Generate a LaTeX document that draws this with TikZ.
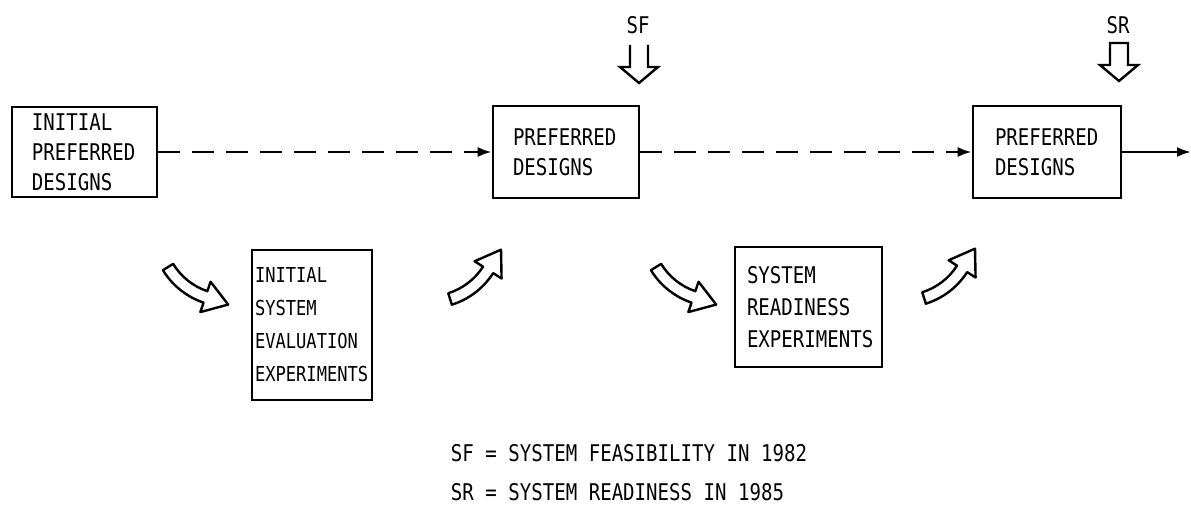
\documentclass[tikz,border=0pt]{standalone}
\usepackage{fontspec}
\setmainfont{DejaVu Sans Mono}[FakeStretch=0.83]
\usetikzlibrary{arrows.meta}
\tikzset{
  every picture/.style={line width=1.2pt},
  box/.style={draw, line width=1.3pt, align=left, inner ysep=2pt, font=\fontsize{11.5}{15}\selectfont},
  flow/.style={-{Latex[length=7pt,width=5pt]}, line width=1.2pt},
  lab/.style={font=\fontsize{11.5}{14}\selectfont},
  drop/.pic={\draw (-9,0) -- (-9,22) -- (-19,22) -- (0,38) -- (19,22) -- (9,22) -- (9,0) -- cycle;},
  dropopen/.pic={\draw (-9,0) -- (-9,22) -- (-19,22) -- (0,38) -- (19,22) -- (9,22) -- (9,0);},
  bend/.pic={\draw[line join=round] (1.06pt,2.82pt) arc[start angle=250, end angle=290, radius=32pt]
      -- (21.23pt,7.52pt) -- (35.25pt,4.1pt) -- (26.71pt,-7.52pt) -- (25pt,-2.82pt)
      arc[start angle=290, end angle=250, radius=38pt] -- cycle;},
}
\begin{document}
\begin{tikzpicture}[x=0.5pt, y=-0.5pt]
  \useasboundingbox (0,0) rectangle (1191,518);
  \node[box, minimum width=72.5pt, minimum height=45pt, inner xsep=10pt, text width=52.5pt] (init) at (84.5,152) {INITIAL\\PREFERRED\\DESIGNS};
  \node[box, minimum width=73pt, minimum height=46pt, inner xsep=10pt, text width=53pt] (pref1) at (566,152) {PREFERRED\\DESIGNS};
  \node[box, minimum width=74pt, minimum height=46pt, inner xsep=11pt, text width=52pt] (pref2) at (1047,152) {PREFERRED\\DESIGNS};
  \node[box, minimum width=60pt, minimum height=75pt, inner xsep=1.5pt, text width=57pt, font=\fontsize{10.3}{16.5}\selectfont] (eval) at (312,325) {INITIAL\\SYSTEM\\EVALUATION\\EXPERIMENTS};
  \node[box, minimum width=73.5pt, minimum height=60pt, inner xsep=6pt, text width=61.5pt, font=\fontsize{11.5}{16}\selectfont] (ready) at (808.5,307) {SYSTEM\\READINESS\\EXPERIMENTS};
  \coordinate (out) at (1191,152);
  \draw[flow, dash pattern=on 11pt off 6pt] (init) -- (pref1);
  \draw[flow, dash pattern=on 11pt off 6pt] (pref1) -- (pref2);
  \draw[flow] (pref2) -- (out);
  \node[lab] (sf) at (638,25) {SF};
  \node[lab] (sr) at (1118,25) {SR};
  \pic at (639,45) {dropopen};
  \pic at (1119,43) {drop};
  \pic[rotate=-38.6] at (168,267) {bend};
  \pic[rotate=37.4] at (450,299) {bend};
  \pic[rotate=-38.6] at (656,267) {bend};
  \pic[rotate=37.4] at (924,298) {bend};
  \node[lab, anchor=west] (leg1) at (443,453) {SF = SYSTEM FEASIBILITY IN 1982};
  \node[lab, anchor=west] (leg2) at (443,492) {SR = SYSTEM READINESS IN 1985};
\end{tikzpicture}
\end{document}
